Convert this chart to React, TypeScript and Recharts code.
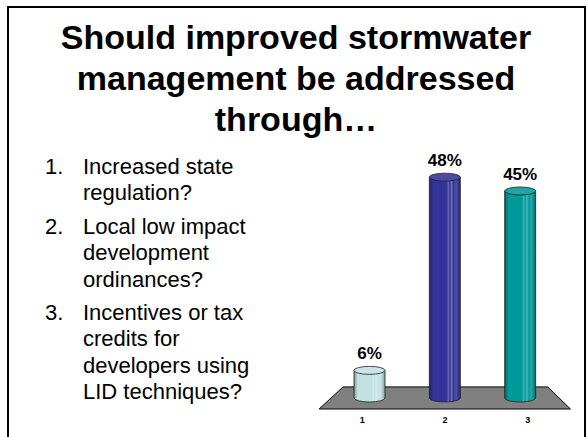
import React from 'react'
import { BarChart, Bar, XAxis, YAxis, ReferenceArea, LabelList } from 'recharts'

// poll answers
const categories = ['1', '2', '3']
const shares = [6, 48, 45]
const barColors = ['#c2e2e2', '#333399', '#009999']

const titleLines = ['Should improved stormwater', 'management be addressed', 'through…']
const options = [
  ['Increased state', 'regulation?'],
  ['Local low impact', 'development', 'ordinances?'],
  ['Incentives or tax', 'credits for', 'developers using', 'LID techniques?'],
]

const data = categories.map((name, i) => ({ name, share: shares[i], color: barColors[i] }))

const FONT = '"Liberation Sans", Arial, sans-serif'
const CHART_W = 297
const CHART_H = 287
const MARGIN = { top: 18, right: 29, bottom: 8, left: 42 }
const PLOT_CX = MARGIN.left + (CHART_W - MARGIN.left - MARGIN.right) / 2

function shade(hex: string, amt: number) {
  const n = parseInt(hex.slice(1), 16)
  const f = (c: number) => Math.max(0, Math.min(255, Math.round(amt > 0 ? c + (255 - c) * amt : c * (1 + amt))))
  const r = f((n >> 16) & 255), g = f((n >> 8) & 255), b = f(n & 255)
  return `rgb(${r},${g},${b})`
}

function Cylinder(props: any) {
  const { x, y, width, height, index, payload } = props
  const c = payload.color
  const ry = 4
  const id = `cyl-${index}`
  return (
    <g>
      <defs>
        <linearGradient id={id} x1="0" y1="0" x2="1" y2="0">
          <stop offset="0%" stopColor={shade(c, -0.35)} />
          <stop offset="12%" stopColor={c} />
          <stop offset="55%" stopColor={c} />
          <stop offset="62%" stopColor={shade(c, 0.25)} />
          <stop offset="66%" stopColor={c} />
          <stop offset="72%" stopColor={shade(c, 0.3)} />
          <stop offset="78%" stopColor={c} />
          <stop offset="86%" stopColor={shade(c, 0.15)} />
          <stop offset="100%" stopColor={shade(c, -0.3)} />
        </linearGradient>
      </defs>
      <path
        d={`M${x},${y} L${x},${y + height} A${width / 2},${ry} 0 0 0 ${x + width},${y + height} L${x + width},${y} Z`}
        fill={`url(#${id})`}
        stroke="#222"
        strokeWidth={0.8}
      />
      <ellipse cx={x + width / 2} cy={y} rx={width / 2} ry={ry} fill={shade(c, 0.12)} stroke="#222" strokeWidth={0.8} />
    </g>
  )
}

function Floor(props: any) {
  const { x, y, width, height } = props
  const pts = [
    [x + width * 0.049, y],
    [x + width * 0.955, y],
    [x + width * 1.055, y + height],
    [x - width * 0.057, y + height],
  ]
  return <polygon points={pts.map((p) => p.join(',')).join(' ')} fill="#808080" stroke="#000" strokeWidth={1} />
}

function Tick(props: any) {
  const { x, y, payload } = props
  const tx = PLOT_CX + (x - PLOT_CX) * 1.1
  return (
    <text x={tx} y={y} dy="0.71em" textAnchor="middle" fontSize={9} fontWeight="bold" fontFamily={FONT} fill="#000">
      {payload.value}
    </text>
  )
}

export default function App() {
  return (
    <div style={{ position: 'absolute', left: 0, top: 0, width: 587, height: 437, overflow: 'hidden', background: '#fff', fontFamily: FONT }}>
      <div style={{ position: 'absolute', left: 7, top: 6, width: 575, height: 460, border: '2px solid #000' }} />
      <div style={{ position: 'absolute', left: 8, top: 17, width: 576, textAlign: 'center', fontSize: 34, fontWeight: 'bold', lineHeight: '41px' }}>
        {titleLines.map((l) => (
          <div key={l}>{l}</div>
        ))}
      </div>
      <div style={{ position: 'absolute', left: 45, top: 154, fontSize: 22, lineHeight: '26.4px' }}>
        {options.map((lines, i) => (
          <div key={i} style={{ display: 'flex', marginBottom: 7 }}>
            <div style={{ width: 38 }}>{i + 1}.</div>
            <div>
              {lines.map((l) => (
                <div key={l}>{l}</div>
              ))}
            </div>
          </div>
        ))}
      </div>
      <div style={{ position: 'absolute', left: 290, top: 150 }}>
        <BarChart width={CHART_W} height={CHART_H} data={data} margin={MARGIN} barSize={31}>
          <XAxis dataKey="name" axisLine={false} tickLine={false} tickSize={0} tickMargin={8} height={20} tick={<Tick />} interval={0} />
          <YAxis hide domain={[-2.4, 50]} allowDataOverflow />
          <ReferenceArea y1={-2.4} y2={2.4} shape={<Floor />} ifOverflow="visible" />
          <Bar dataKey="share" shape={<Cylinder />} isAnimationActive={false}>
            <LabelList
              dataKey="share"
              position="top"
              offset={11}
              formatter={(v: any) => `${v}%`}
              style={{ fontSize: 17, fontWeight: 'bold', fontFamily: FONT, fill: '#000' }}
            />
          </Bar>
        </BarChart>
      </div>
    </div>
  )
}
